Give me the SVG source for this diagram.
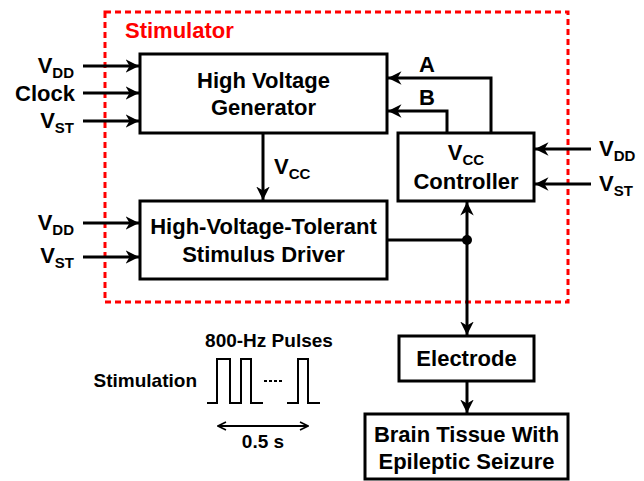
<svg xmlns="http://www.w3.org/2000/svg" width="644" height="481" viewBox="0 0 644 481">
<defs>
<marker id="ah" viewBox="0 0 10 10" refX="10" refY="5" markerWidth="4.5" markerHeight="4.5" markerUnits="strokeWidth" orient="auto-start-reverse">
<path d="M0,0 L10,5 L0,10 L3,5 Z" fill="#000"/>
</marker>
<marker id="oh" viewBox="0 0 10 10" refX="9" refY="5" markerWidth="5" markerHeight="5" markerUnits="strokeWidth" orient="auto-start-reverse">
<path d="M1,1 L9,5 L1,9" fill="none" stroke="#000" stroke-width="1.6"/>
</marker>
</defs>
<style>
text{font-family:"Liberation Sans",Arial,sans-serif;font-weight:bold;fill:#000}
.t{font-size:22px}
.s{font-size:15px}
.b{font-size:19px}
.box{fill:#fff;stroke:#000;stroke-width:3}
.w{fill:none;stroke:#000;stroke-width:3}
.ar{fill:none;stroke:#000;stroke-width:3;marker-end:url(#ah)}
</style>
<rect x="105" y="12" width="463" height="290" fill="none" stroke="#f00" stroke-width="3" stroke-dasharray="6,4"/>
<text x="125" y="38" class="t" style="fill:#f00">Stimulator</text>

<g id="connectors">
<path class="ar" d="M83,66 H139"/>
<path class="ar" d="M83,93 H139"/>
<path class="ar" d="M83,121 H139"/>
<path class="ar" d="M83,223 H139"/>
<path class="ar" d="M83,257 H139"/>
<path class="ar" d="M263,133 V200"/>
<path class="ar" d="M491,133 V78 H388"/>
<path class="ar" d="M447,133 V111 H388"/>
<path class="ar" d="M591,149 H535"/>
<path class="ar" d="M591,184 H535"/>
<path class="w" d="M387,240 H467"/>
<path class="w" d="M467,202 V335" style="marker-start:url(#ah);marker-end:url(#ah)"/>
<circle cx="467" cy="240" r="5" fill="#000"/>
<path class="ar" d="M467,381 V413"/>
</g>

<g id="left-labels">
<text x="74" y="73" class="t" text-anchor="end">V<tspan class="s" dy="5">DD</tspan></text>
<text x="75" y="101" class="t" text-anchor="end">Clock</text>
<text x="74" y="128" class="t" text-anchor="end">V<tspan class="s" dy="5">ST</tspan></text>
<text x="74" y="230" class="t" text-anchor="end">V<tspan class="s" dy="5">DD</tspan></text>
<text x="74" y="263" class="t" text-anchor="end">V<tspan class="s" dy="5">ST</tspan></text>
</g>
<g id="right-labels">
<text x="599" y="156" class="t">V<tspan class="s" dy="5">DD</tspan></text>
<text x="599" y="191" class="t">V<tspan class="s" dy="5">ST</tspan></text>
<text x="427" y="72" class="t" text-anchor="middle">A</text>
<text x="427" y="105" class="t" text-anchor="middle">B</text>
<text x="274" y="174" class="t">V<tspan class="s" dy="5">CC</tspan></text>
</g>

<g id="hvg">
<rect class="box" x="140" y="54" width="247" height="79"/>
<text x="263.5" y="88" class="t" text-anchor="middle">High Voltage</text>
<text x="263.5" y="115" class="t" text-anchor="middle">Generator</text>
</g>
<g id="vcc-controller">
<rect class="box" x="398" y="133" width="136" height="68"/>
<text x="466" y="160" class="t" text-anchor="middle">V<tspan class="s" dy="5">CC</tspan></text>
<text x="466" y="189" class="t" text-anchor="middle">Controller</text>
</g>
<g id="driver">
<rect class="box" x="140" y="201" width="247" height="78"/>
<text x="263.5" y="234" class="t" text-anchor="middle">High-Voltage-Tolerant</text>
<text x="263.5" y="262" class="t" text-anchor="middle">Stimulus Driver</text>
</g>
<g id="electrode">
<rect class="box" x="399" y="336" width="135" height="45"/>
<text x="466.5" y="366" class="t" text-anchor="middle">Electrode</text>
</g>
<g id="brain">
<rect class="box" x="365" y="414" width="203" height="65"/>
<text x="466.5" y="442" class="t" text-anchor="middle">Brain Tissue With</text>
<text x="466.5" y="469" class="t" text-anchor="middle">Epileptic Seizure</text>
</g>

<g id="stimulation">
<text x="269" y="347" class="b" text-anchor="middle">800-Hz Pulses</text>
<text x="197" y="387" class="b" text-anchor="end">Stimulation</text>
<path d="M207,403 H217 V359 H230 V403 H241 V359 H251 V403 H263 M287,403 H298 V359 H308 V403 H320" fill="none" stroke="#000" stroke-width="2"/>
<path d="M264,381 H283" stroke="#000" stroke-width="2" stroke-dasharray="3,2"/>
<path d="M218,426 H308" stroke="#000" stroke-width="2" fill="none" marker-start="url(#oh)" marker-end="url(#oh)"/>
<text x="263" y="448" class="b" text-anchor="middle">0.5 s</text>
</g>
</svg>
